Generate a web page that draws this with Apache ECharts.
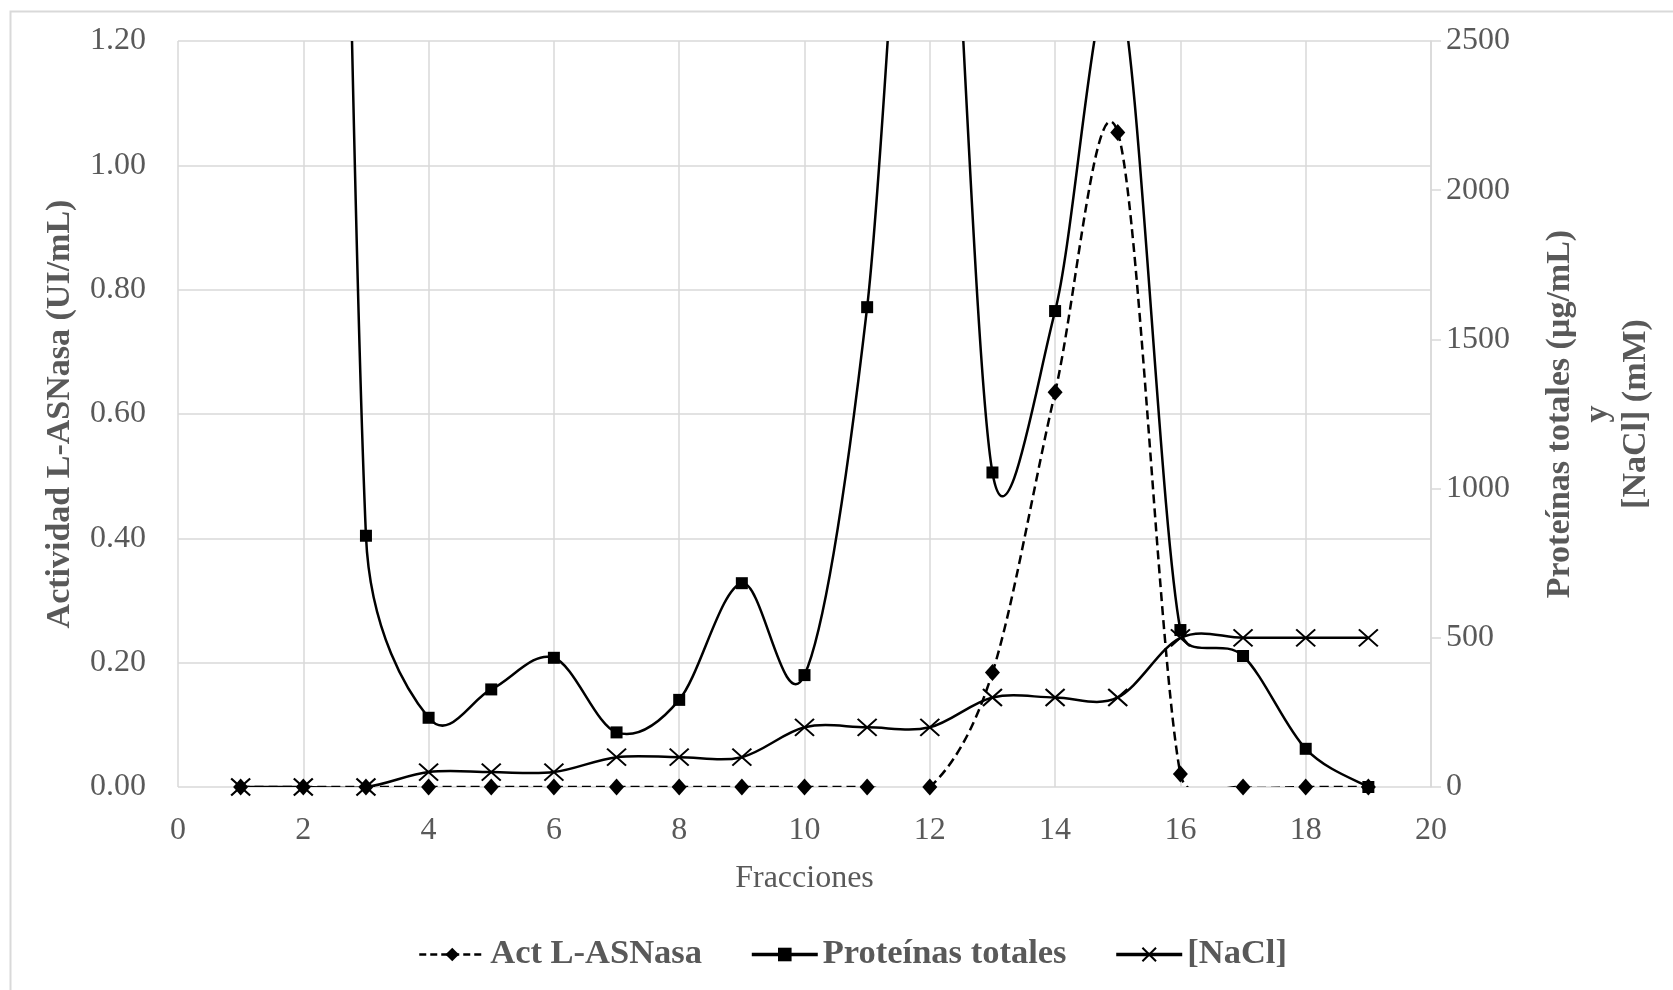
<!DOCTYPE html>
<html>
<head>
<meta charset="utf-8">
<script src="https://cdn.jsdelivr.net/npm/echarts@6/dist/echarts.min.js"></script>
<style>
html,body{margin:0;padding:0;background:#fff;}
#chart{width:1673px;height:990px;}
</style>
</head>
<body>
<div id="chart"></div>
<script>
// ---- data ----
const fracciones = [1,2,3,4,5,6,7,8,9,10,11,12,13,14,15,16,17,18,19];
const actividad  = [0,0,0,0,0,0,0,0,0,0,0,0,0.184,0.635,1.053,0.021,0,0,0];
const proteinas  = [9000,10000,842,232,327,433,183,292,683,375,1608,4000,1054,1595,2700,526,439,128,0];
const nacl       = [0,0,0,50,50,50,100,100,100,200,200,200,300,300,300,500,500,500,500];
const seriesNames = ['Act L-ASNasa','Proteínas totales','[NaCl]'];
const xTitle = 'Fracciones';
const yLeftTitle = 'Actividad L-ASNasa (UI/mL)';
const yRightTitle = 'Proteínas totales (µg/mL)\ny\n[NaCl] (mM)';

const FONT = "'Liberation Serif','Times New Roman',serif";
const GRAY = '#595959';
const GRID = '#d9d9d9';

// Excel-like smoothed segment (Bezier with limited tangents), computed in pixel space
function makeCurve(xs, ys, yAxisIndex, lineStyle) {
  return {
    type: 'custom',
    xAxisIndex: 0,
    yAxisIndex: yAxisIndex,
    clip: true,
    silent: true,
    z: 2,
    data: xs.map((x, i) => [x, ys[i]]),
    encode: {x: 0, y: 1},
    renderItem: function (params, api) {
      const i = params.dataIndex;
      const n = xs.length;
      if (i >= n - 1) return null;
      const P = k => api.coord([xs[Math.max(0, Math.min(n - 1, k))], ys[Math.max(0, Math.min(n - 1, k))]]);
      const p0 = P(i - 1), p1 = P(i), p2 = P(i + 1), p3 = P(i + 2);
      const d = (a, b) => Math.hypot(b[0] - a[0], b[1] - a[1]);
      const seg = d(p1, p2);
      let f1 = 1 / 6, f2 = 1 / 6;
      const d02 = d(p0, p2), d13 = d(p1, p3);
      if (d02 > 0 && d02 * f1 > seg / 2) f1 = seg / 2 / d02;
      if (d13 > 0 && d13 * f2 > seg / 2) f2 = seg / 2 / d13;
      return {
        type: 'bezierCurve',
        shape: {
          x1: p1[0], y1: p1[1], x2: p2[0], y2: p2[1],
          cpx1: p1[0] + (p2[0] - p0[0]) * f1, cpy1: p1[1] + (p2[1] - p0[1]) * f1,
          cpx2: p2[0] - (p3[0] - p1[0]) * f2, cpy2: p2[1] - (p3[1] - p1[1]) * f2
        },
        style: Object.assign({fill: null, stroke: '#000', lineWidth: 2.5}, lineStyle)
      };
    }
  };
}

function markerSeries(name, ys, yAxisIndex, symbol, symbolSize, itemStyle) {
  return {
    name: name,
    type: 'line',
    xAxisIndex: 0,
    yAxisIndex: yAxisIndex,
    data: fracciones.map((x, i) => [x, ys[i]]),
    symbol: symbol,
    symbolSize: symbolSize,
    showSymbol: true,
    clip: true,
    z: 3,
    lineStyle: {color: '#000', width: 2.5, opacity: 0},
    itemStyle: itemStyle,
    emphasis: {disabled: true}
  };
}

const chart = echarts.init(document.getElementById('chart'), null, {renderer: 'canvas'});
chart.setOption({
  animation: false,
  backgroundColor: '#fff',
  graphic: [{
    type: 'rect', left: 8, top: 9, z: -10,
    shape: {width: 1720, height: 1020},
    style: {fill: null, stroke: GRID, lineWidth: 2}
  }],
  grid: {left: 178, right: 242, top: 41, bottom: 203, containLabel: false},
  xAxis: {
    type: 'value', min: 0, max: 20, interval: 2,
    name: xTitle, nameLocation: 'middle', nameGap: 73,
    nameTextStyle: {fontFamily: FONT, fontSize: 32, color: GRAY, lineHeight: 38},
    axisLine: {show: false}, axisTick: {show: false},
    axisLabel: {fontFamily: FONT, fontSize: 32, color: GRAY, margin: 26, lineHeight: 36},
    splitLine: {show: true, lineStyle: {color: GRID, width: 1.5}}
  },
  yAxis: [{
    type: 'value', min: 0, max: 1.2, interval: 0.2, position: 'left',
    name: yLeftTitle, nameLocation: 'middle', nameRotate: 90, nameGap: 96,
    nameTextStyle: {fontFamily: FONT, fontSize: 34, fontWeight: 'bold', color: GRAY, lineHeight: 38},
    axisLine: {show: false}, axisTick: {show: false},
    axisLabel: {fontFamily: FONT, fontSize: 32, color: GRAY, margin: 32, formatter: v => v.toFixed(2)},
    splitLine: {show: true, lineStyle: {color: GRID, width: 1.5}}
  }, {
    type: 'value', min: 0, max: 2500, interval: 500, position: 'right',
    name: yRightTitle, nameLocation: 'middle', nameRotate: 90, nameGap: 110,
    nameTextStyle: {fontFamily: FONT, fontSize: 34, fontWeight: 'bold', color: GRAY, lineHeight: 38, align: 'center'},
    axisLine: {show: true, lineStyle: {color: GRID, width: 1.5}},
    axisTick: {show: true, inside: false, length: 10, lineStyle: {color: GRID, width: 1.5}},
    axisLabel: {fontFamily: FONT, fontSize: 32, color: GRAY, margin: 15, formatter: v => String(v)},
    splitLine: {show: false}
  }],
  legend: {
    left: 418, top: 937, padding: 0,
    itemWidth: 66, itemHeight: 17, itemGap: 48,
    textStyle: {fontFamily: FONT, fontSize: 34.5, fontWeight: 'bold', color: GRAY, lineHeight: 35},
    data: [
      {name: seriesNames[0], lineStyle: {opacity: 1, width: 2.5, color: '#000', type: [7, 4]}},
      {name: seriesNames[1], lineStyle: {opacity: 1, width: 3.5, color: '#000', type: 'solid'}},
      {name: seriesNames[2], lineStyle: {opacity: 1, width: 3.5, color: '#000', type: 'solid'}}
    ]
  },
  series: [
    makeCurve(fracciones, actividad, 0, {lineDash: [9, 5]}),
    markerSeries(seriesNames[0], actividad, 0, 'diamond', [15, 17], {color: '#000'}),
    makeCurve(fracciones, proteinas, 1, {}),
    markerSeries(seriesNames[1], proteinas, 1, 'rect', 12, {color: '#000'}),
    makeCurve(fracciones, nacl, 1, {}),
    markerSeries(seriesNames[2], nacl, 1, 'path://M0,0L10,10M10,0L0,10', [19, 17],
      {color: '#000', borderColor: '#000', borderWidth: 2})
  ]
});
</script>
</body>
</html>
